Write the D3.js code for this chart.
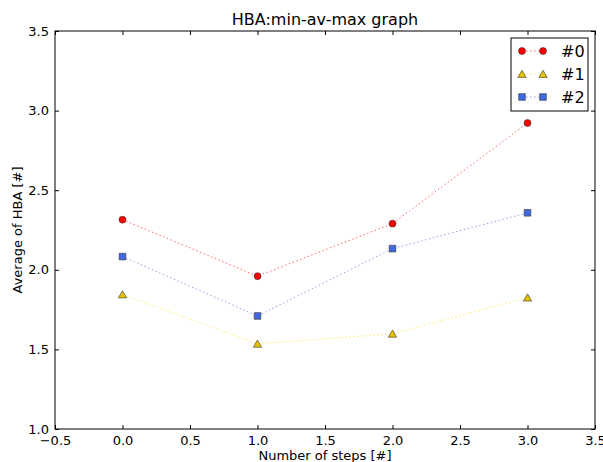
<!DOCTYPE html>
<html lang="en">
  <head>
    <meta charset="utf-8">
    <title>HBA:min-av-max graph</title>
    <script src="https://cdn.jsdelivr.net/npm/d3@7"></script>
    <style>
      body { margin: 0; background: #fff; }
      text { font-family: "DejaVu Sans", sans-serif; fill: #000; }
    </style>
  </head>
  <body>
    <script>

       var steps = [0, 1, 2, 3]
       var series0 = [2.315, 1.96, 2.29, 2.922]
       var series1 = [1.845, 1.535, 1.598, 1.825]
       var series2 = [2.083, 1.71, 2.133, 2.358]
       var seriesNames = ["#0", "#1", "#2"]
       var xTicks = [-0.5, 0, 0.5, 1, 1.5, 2, 2.5, 3, 3.5]
       var yTicks = [1.0, 1.5, 2.0, 2.5, 3.0, 3.5]

       var W = 603, H = 462
       var padL = 55, padR = 595, padT = 31, padB = 429

       var svg = d3.select("body").append("svg")
                   .attr("width", W)
                   .attr("height", H);

       var x = d3.scaleLinear().domain([-0.5, 3.5]).range([padL, padR])
       var y = d3.scaleLinear().domain([1.0, 3.5]).range([padB, padT])

       // series styles: marker shape, fill, line colour
       var styles = [
         {data: series0, shape: d3.symbolCircle, size: 38, fill: "#ff0000", line: "#ff0000"},
         {data: series1, shape: d3.symbolTriangle, size: 30, fill: "#e6c200", line: "#ffd700"},
         {data: series2, shape: d3.symbolSquare, size: 44, fill: "#4169e1", line: "#4169e1"}
       ]

       var line = d3.line()
         .x(function(d, i) { return x(steps[i]) })
         .y(function(d) { return y(d) })

       styles.forEach(function(s) {
         svg.append("path")
            .attr("d", line(s.data))
            .attr("fill", "none")
            .attr("stroke", s.line)
            .attr("stroke-opacity", 0.6)
            .attr("stroke-width", 1)
            .attr("stroke-dasharray", "1.5,2.5")
       })

       styles.forEach(function(s) {
         svg.selectAll(null)
            .data(s.data)
            .enter().append("path")
            .attr("d", d3.symbol().type(s.shape).size(s.size))
            .attr("transform", function(d, i) {
              var dy = s.shape === d3.symbolTriangle ? 1 : 0
              return "translate(" + x(steps[i]) + "," + (y(d) + dy) + ")"
            })
            .attr("fill", s.fill)
            .attr("stroke", "#333")
            .attr("stroke-width", 0.6)
       })

       // frame
       svg.append("rect")
          .attr("x", padL).attr("y", padT)
          .attr("width", padR - padL).attr("height", padB - padT)
          .attr("fill", "none").attr("stroke", "#000").attr("stroke-width", 1)

       // axes with inward ticks on all four sides
       var tickFmt = d3.format(".1f")
       function minusFmt(d) { return tickFmt(d).replace("-", "\u2212") }

       svg.append("g").attr("transform", "translate(0," + padB + ")")
         .call(d3.axisBottom(x).tickValues(xTicks).tickFormat(minusFmt).tickSizeInner(-4).tickSizeOuter(0).tickPadding(7))
       svg.append("g").attr("transform", "translate(0," + padT + ")")
         .call(d3.axisTop(x).tickValues(xTicks).tickFormat("").tickSizeInner(-4).tickSizeOuter(0))
       svg.append("g").attr("transform", "translate(" + padL + ",0)")
         .call(d3.axisLeft(y).tickValues(yTicks).tickFormat(tickFmt).tickSizeInner(-4).tickSizeOuter(0).tickPadding(6))
       svg.append("g").attr("transform", "translate(" + padR + ",0)")
         .call(d3.axisRight(y).tickValues(yTicks).tickFormat("").tickSizeInner(-4).tickSizeOuter(0))

       svg.selectAll(".domain").remove()
       svg.selectAll(".tick text").style("font-size", "13px").style("font-family", "DejaVu Sans")
       svg.selectAll(".tick line").attr("stroke", "#000")

       // titles
       svg.append("text")
          .attr("x", (padL + padR) / 2).attr("y", 25)
          .attr("text-anchor", "middle").style("font-size", "16px")
          .text("HBA:min-av-max graph")

       svg.append("text")
          .attr("x", (padL + padR) / 2).attr("y", 460)
          .attr("text-anchor", "middle").style("font-size", "13px")
          .text("Number of steps [#]")

       svg.append("text")
          .attr("transform", "translate(22," + (padT + padB) / 2 + ") rotate(-90)")
          .attr("text-anchor", "middle").style("font-size", "13px")
          .text("Average of HBA [#]")

       // legend
       var lg = svg.append("g").attr("transform", "translate(511,38)")
       lg.append("rect")
         .attr("width", 77).attr("height", 73)
         .attr("fill", "#fff").attr("stroke", "#000").attr("stroke-width", 1)

       styles.forEach(function(s, k) {
         var cy = 13 + k * 23
         lg.append("line")
           .attr("x1", 11).attr("x2", 32).attr("y1", cy).attr("y2", cy)
           .attr("stroke", s.line).attr("stroke-opacity", 0.6)
           .attr("stroke-dasharray", "1.5,2.5")
         ;[11, 32].forEach(function(mx) {
           var dy = s.shape === d3.symbolTriangle ? 1 : 0
           lg.append("path")
             .attr("d", d3.symbol().type(s.shape).size(s.size))
             .attr("transform", "translate(" + mx + "," + (cy + dy) + ")")
             .attr("fill", s.fill).attr("stroke", "#333").attr("stroke-width", 0.6)
         })
         lg.append("text")
           .attr("x", 50).attr("y", cy + 6)
           .style("font-size", "16px")
           .text(seriesNames[k])
       })

    </script>
  </body>
</html>
